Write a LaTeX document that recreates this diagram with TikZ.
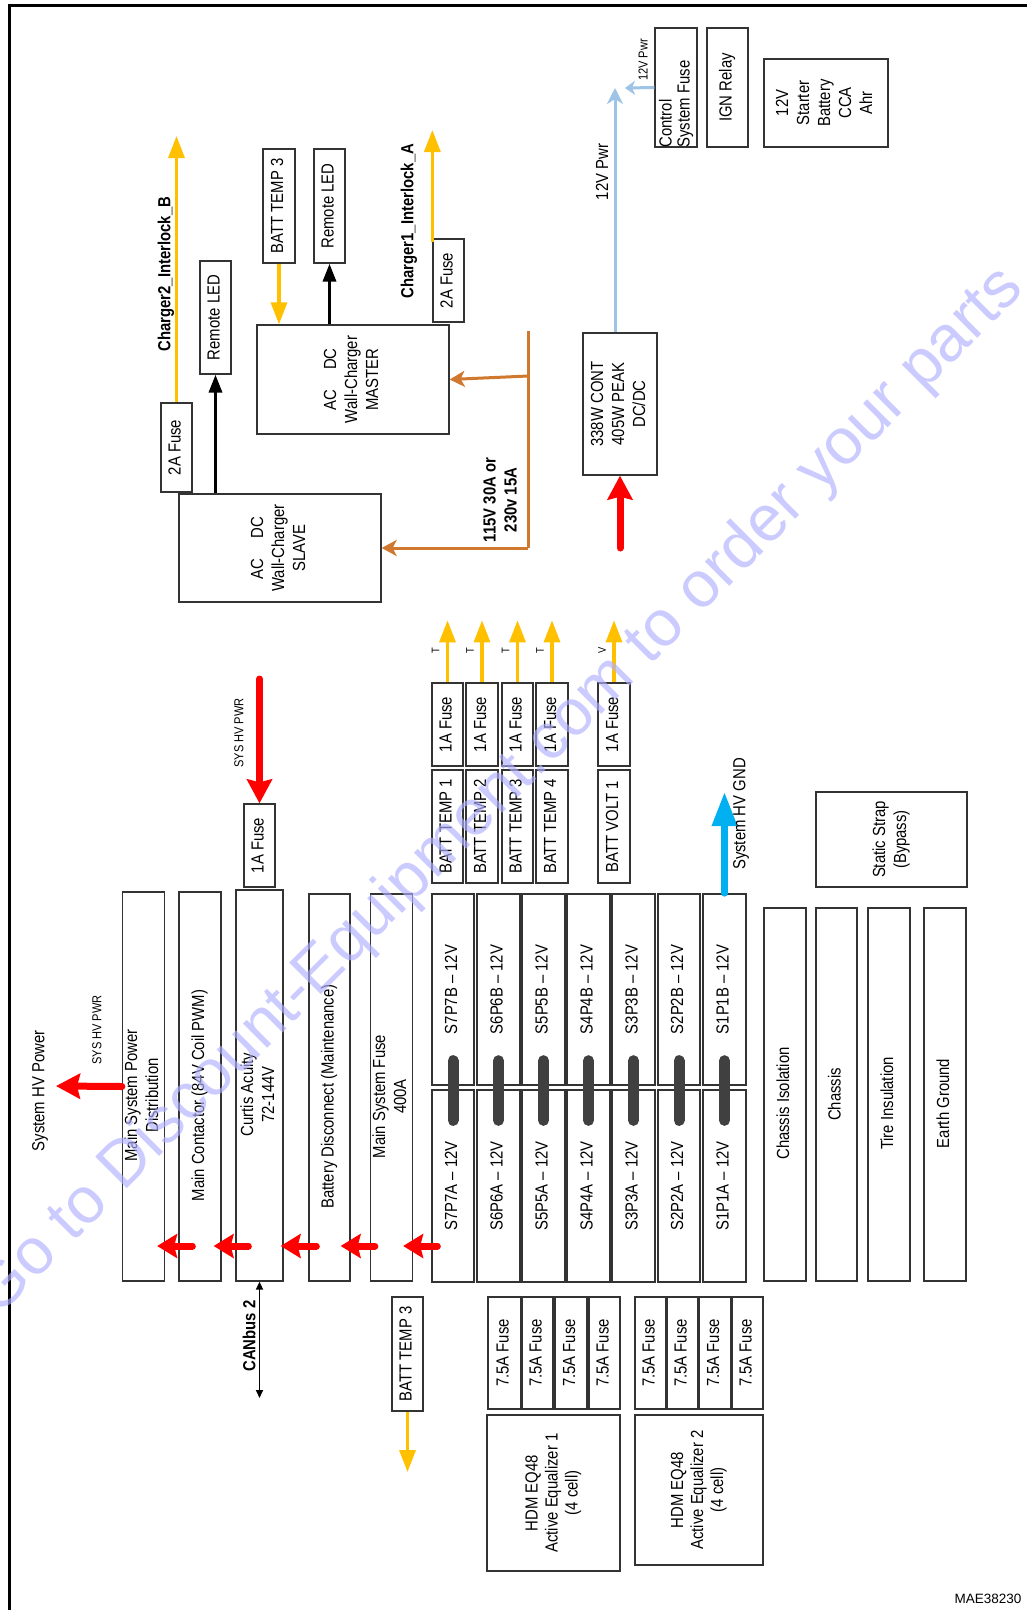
\documentclass[tikz,border=0pt]{standalone}
\usepackage{fontspec}
\setmainfont{Liberation Sans}[FakeStretch=0.85]
\newfontfamily\plainfont{Liberation Sans}
\usetikzlibrary{arrows.meta,calc}
\definecolor{amber}{HTML}{FFC000}
\definecolor{orng}{HTML}{D0782E}
\definecolor{lblue}{HTML}{9DC3E6}
\definecolor{cyanb}{HTML}{00B0F0}
\definecolor{barg}{HTML}{404040}
\definecolor{wmark}{HTML}{B0B0FF}
\newcommand\rtx[1]{\rotatebox{90}{\begin{tabular}{@{}c@{}}#1\end{tabular}}}
\newcommand\rtxd[1]{\rotatebox{90}{\begin{tabular}{@{}c@{}}#1\end{tabular}\hspace{18pt}}}
\newcommand\mkbox[7][]{\pgfmathsetmacro\bxw{#5-#3}\pgfmathsetmacro\bxh{#6-#4}%
  \node[box,minimum width=\bxw pt,minimum height=\bxh pt,#1] (#2) at ({(#3+#5)/2},{(#4+#6)/2}) {#7};}
\begin{document}
\begin{tikzpicture}[x=1pt,y=-1pt,
  font=\fontsize{17.5}{21}\selectfont,
  box/.style={draw=black!80,line width=1.3pt,inner sep=0pt,rectangle},
  lbl/.style={rotate=90,inner sep=0pt,align=center},
  small/.style={font=\fontsize{13}{15}\selectfont},
  tiny/.style={font=\fontsize{11}{13}\selectfont},
  bold/.style={font=\fontsize{17.5}{21}\selectfont\bfseries},
  yarr/.style={draw=amber,line width=3.3pt,-{Triangle[length=22pt,width=16pt]}},
  barr/.style={draw=black,line width=3.5pt,-{Triangle[length=18pt,width=13pt]}},
  oarr/.style={draw=orng,line width=3pt,-{Stealth[length=15pt,width=16pt,inset=4pt]}},
  rarr/.style={draw=red,line width=7pt,line cap=round,-{Stealth[length=24pt,width=25pt,inset=3pt]}},
  rarrs/.style={draw=red,line width=7pt,line cap=round,-{Stealth[length=20pt,width=24pt,inset=3pt]}},
  lbarr/.style={draw=lblue,line width=3pt,-{Stealth[length=16pt,width=16pt,inset=5pt]}},
  lbarrs/.style={draw=lblue,line width=3pt,-{Stealth[length=10pt,width=14pt,inset=3pt]}},
  carr/.style={draw=cyanb,line width=6.5pt,line cap=round,-{Triangle[length=34pt,width=24pt]}},
  canarr/.style={draw=black,line width=1.8pt,{Triangle[length=8pt,width=7pt]}-{Triangle[length=8pt,width=7pt]}},
  bar/.style={draw=barg,line width=11pt,line cap=round}
]
\useasboundingbox (0,0) rectangle (1027,1610);
\fill[white] (0,0) rectangle (1027,1610);
\draw[line width=3pt] (9.5,1610) -- (9.5,5.5) -- (1027,5.5);

% ---------- top section ----------
\mkbox{fuseB}{161}{403}{192}{492}{\rtx{2A Fuse}}
\mkbox{ledS}{200}{261}{231}{374}{\rtx{Remote LED}}
\mkbox{slave}{179}{494}{381}{602}{\rtx{AC\hspace{20pt}DC\\Wall-Charger\\SLAVE}}
\mkbox{btT}{263}{149}{295}{263}{\rtx{BATT TEMP 3}}
\mkbox{ledM}{314}{149}{345}{263}{\rtx{Remote LED}}
\mkbox{master}{257}{325}{449}{434}{\rtx{AC\hspace{20pt}DC\\Wall-Charger\\MASTER}}
\mkbox{fuseA}{433}{239}{464}{322}{\rtx{2A Fuse}}
\mkbox{dcdc}{583}{333}{657}{475}{\rtx{338W CONT\\405W PEAK\\DC/DC}}
\mkbox{csf}{655}{28}{697}{147}{}
\node[lbl,anchor=west,align=left] (csft) at (csf.south) {Control\\[-3pt]System Fuse};
\mkbox{ign}{707}{28}{748}{147}{\rtx{IGN Relay}}
\mkbox{sbat}{764}{59}{888}{147}{\rtx{12V\\Starter\\Battery\\CCA\\Ahr}}

\coordinate (cBtip) at (177,136);
\draw[yarr] (fuseB.north) -- (fuseB.north |- cBtip);
\node[lbl,bold] (cBl) at (166,274) {Charger2\_Interlock\_B};
\draw[barr] (slave.north -| ledS.south) -- (ledS.south);
\draw[barr] (master.north -| ledM.south) -- (ledM.south);
\draw[yarr] (btT.south) -- (btT.south |- master.north);
\coordinate (cAtip) at (433,130);
\draw[yarr] ([yshift=-4pt]fuseA.north west) -- (fuseA.north west |- cAtip);
\node[lbl,bold] (cAl) at (409,221) {Charger1\_Interlock\_A};

\coordinate (trT) at (528,331);
\coordinate (trB) at (528,548);
\coordinate (trM) at (528,376);
\draw[orng,line width=3pt] (trT) -- (trB);
\draw[oarr] (trB) -- (slave.east);
\draw[oarr] (trM) -- (master.east);
\node[lbl,bold] (acl) at (500,500) {115V 30A or\\230v 15A};

\coordinate (dcin) at (620,548);
\draw[rarr] (dcin) -- (dcdc.south);
\coordinate (bltip) at (615,88);
\draw[lbarr] ([xshift=-5pt]dcdc.north) -- (bltip);
\node[lbl] (p12) at (602,172) {12V Pwr};
\coordinate (bhtip) at (625,88);
\draw[lbarrs] (csf.west) -- (bhtip);
\node[lbl,small] (p12s) at (643,60) {12V Pwr};

% ---------- middle section ----------
\mkbox{fuseH}{244}{804}{275}{887}{\rtx{1A Fuse}}
\mkbox{mspd}{123}{892}{164}{1281}{\rtxd{Main System Power\\Distribution}}
\mkbox{mc}{179}{892}{221}{1281}{\rtxd{Main Contactor (84V Coil PWM)}}
\mkbox{curtis}{236}{890}{283}{1281}{\rtxd{Curtis Acuity\\72-144V}}
\mkbox{bd}{309}{894}{350}{1281}{\rtxd{Battery Disconnect (Maintenance)}}
\mkbox{msf}{371}{894}{412}{1281}{\rtxd{Main System Fuse\\400A}}

\foreach \n/\xa/\xb in {7/432/474,6/477/520,5/522/565,4/567/610,3/612/655,2/658/700,1/703/746}{
  \mkbox{SB\n}{\xa}{894}{\xb}{1085}{\rtx{S\n P\n B -- 12V}}
  \mkbox{SA\n}{\xa}{1090}{\xb}{1282}{\rtx{S\n P\n A -- 12V}}
  \draw[bar] ($(SB\n.south)+(0,-25)$) -- ($(SA\n.north)+(0,31)$);
}

\foreach \nm/\xa/\xb/\lt/\lab in {bta/432/463/T/BATT TEMP 1,btb/466/498/T/BATT TEMP 2,btc/502/533/T/BATT TEMP 3,btd/536/568/T/BATT TEMP 4,bv/598/630/V/BATT VOLT 1}{
  \mkbox{f\nm}{\xa}{683}{\xb}{766}{\rtx{1A Fuse}}
  \mkbox{\nm}{\xa}{770}{\xb}{883}{\rtx{\lab}}
  \coordinate (t\nm) at ($(f\nm.north)+(0,-62)$);
  \draw[yarr] (f\nm.north) -- (t\nm);
  \node[lbl,tiny] (l\nm) at ($(f\nm.north)+(-12,-32)$) {\lt};
}

\mkbox{ci}{764}{908}{806}{1281}{\rtxd{Chassis Isolation}}
\mkbox{ch}{816}{908}{857}{1281}{\rtx{Chassis}}
\mkbox{ti}{868}{908}{910}{1281}{\rtxd{Tire Insulation}}
\mkbox{eg}{924}{908}{966}{1281}{\rtxd{Earth Ground}}
\mkbox{ss}{816}{792}{967}{887}{\rtx{Static Strap\\(Bypass)}}

\coordinate (hvtip) at (56,1086);
\draw[rarr] (mspd.west) -- (hvtip);
\node[lbl] (hvp) at (40,1091) {System HV Power};
\node[lbl,small] (shp1) at (97,1030) {SYS HV PWR};
\coordinate (shtail) at (257,679);
\draw[rarr] (fuseH.north |- shtail) -- (fuseH.north);
\node[lbl,small] (shp2) at (239,733) {SYS HV PWR};

\coordinate (ry) at (0,1246);
\draw[rarrs] ($(SA7.west|-ry)+(6,0)$) -- ($(msf.east|-ry)+(-10,0)$);
\draw[rarrs] ($(msf.west|-ry)+(5,0)$) -- ($(bd.east|-ry)+(-10,0)$);
\draw[rarrs] ($(bd.west|-ry)+(8,0)$) -- ($(curtis.east|-ry)+(-3,0)$);
\draw[rarrs] ($(curtis.west|-ry)+(13,0)$) -- ($(mc.east|-ry)+(-8,0)$);
\draw[rarrs] ($(mc.west|-ry)+(14,0)$) -- ($(mspd.east|-ry)+(-8,0)$);

\coordinate (gndtip) at (724.5,792);
\draw[carr] (SB1.north) -- (gndtip);
\node[lbl] (gndl) at (741,814) {System HV GND};

\coordinate (canb) at (259.5,1398);
\draw[canarr] (curtis.south) -- (canb);
\node[lbl,bold] (canl) at (249,1336) {CANbus 2};

% ---------- lower section ----------
\mkbox{btL}{392}{1297}{423}{1411}{\rtx{BATT TEMP 3}}
\coordinate (btLtip) at (407.5,1472);
\draw[yarr] (btL.south) -- (btL.south |- btLtip);
\foreach \xa/\xb [count=\i] in {488/521,522/553,555/587,589/620,635/666,667/698,699/731,732/763}{
  \mkbox{fz\i}{\xa}{1297}{\xb}{1409}{\rtx{7.5A Fuse}}
}
\mkbox{hdm1}{487}{1415}{620}{1571}{\rtx{HDM EQ48\\[-1pt]Active Equalizer 1\\[-1pt](4 cell)}}
\mkbox{hdm2}{635}{1415}{763}{1565}{\rtx{HDM EQ48\\[-1pt]Active Equalizer 2\\[-1pt](4 cell)}}

\node[font=\plainfont\fontsize{13.5}{16}\selectfont,inner sep=0pt] (mae) at (988,1599) {MAE38230};

% watermark
\node[rotate=45,text=wmark,opacity=0.65,font=\plainfont\fontsize{65}{70}\selectfont,inner sep=0pt] (wm) at (500,792) {Go to Discount-Equipment.com to order your parts};
\end{tikzpicture}
\end{document}
